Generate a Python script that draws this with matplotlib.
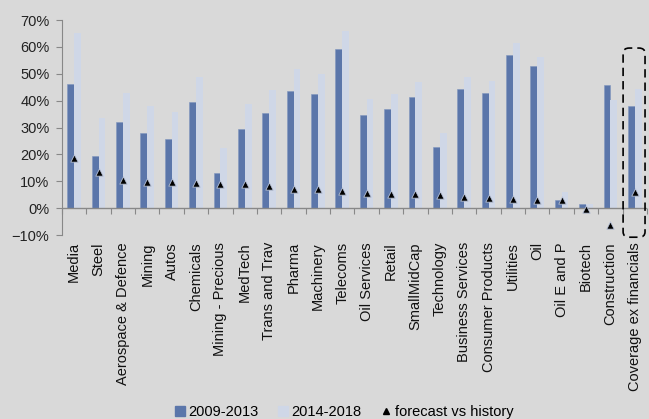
import numpy as np
import matplotlib.pyplot as plt
from matplotlib.patches import Patch, FancyBboxPatch
from matplotlib.lines import Line2D
from matplotlib.ticker import PercentFormatter

plt.rcParams['font.family'] = ['Liberation Sans', 'DejaVu Sans']

sectors = ["Media", "Steel", "Aerospace & Defence", "Mining", "Autos", "Chemicals",
           "Mining - Precious", "MedTech", "Trans and Trav", "Pharma", "Machinery",
           "Telecoms", "Oil Services", "Retail", "SmallMidCap", "Technology",
           "Business Services", "Consumer Products", "Utilities", "Oil", "Oil E and P",
           "Biotech", "Construction", "Coverage ex financials"]
p2009_2013 = [46.1, 19.3, 32.0, 28.0, 25.6, 39.4, 13.0, 29.4, 35.3, 43.5, 42.4, 59.3,
              34.5, 37.0, 41.3, 22.7, 44.2, 42.8, 57.2, 52.9, 3.0, 1.7, 46.0, 38.0]
p2014_2018 = [65.3, 33.4, 42.8, 38.0, 35.7, 49.0, 22.3, 38.7, 43.9, 51.7, 50.0, 66.0,
              40.6, 42.6, 47.0, 27.9, 48.7, 47.2, 61.3, 56.2, 6.2, 1.5, 40.2, 44.5]
forecast = [18.6, 13.5, 10.5, 9.7, 9.7, 9.3, 8.9, 8.9, 8.3, 7.3, 7.3, 6.4,
            5.7, 5.1, 5.1, 4.8, 4.2, 3.9, 3.6, 3.0, 3.0, -0.4, -6.2, 6.0]

bg = '#d9d9d9'
dark = '#5b76aa'
light = '#cfd7e7'

fig = plt.figure(figsize=(6.49, 4.19), dpi=100, facecolor=bg)
ax = fig.add_axes([0.0955, 0.439, 0.9014, 0.513])
ax.set_facecolor(bg)

x = np.arange(len(sectors))
w = 0.28
ax.bar(x - w / 2, p2009_2013, w, color=dark, edgecolor='#8096bf', linewidth=0.4, zorder=2)
ax.bar(x + w / 2, p2014_2018, w, color=light, zorder=2)
ax.scatter(x, forecast, marker='^', s=28, color='black', edgecolors='#b8c2d8',
           linewidths=0.6, zorder=4)

ax.set_xlim(-0.5, len(sectors) - 0.5)
ax.set_ylim(-10, 70)
ax.set_yticks(np.arange(-10, 71, 10))
ax.yaxis.set_major_formatter(PercentFormatter(decimals=0))
ax.tick_params(axis='y', labelsize=10.5, colors='#222222', length=4, color='#888888', pad=5)

# category labels below plot, no tick marks
ax.set_xticks(x)
ax.set_xticklabels(sectors, rotation=90, fontsize=10.5, color='#111111')
ax.tick_params(axis='x', length=0, pad=5)

for s in ['top', 'right', 'bottom']:
    ax.spines[s].set_visible(False)
ax.spines['left'].set_color('#888888')

# zero line with boundary ticks
ax.axhline(0, color='#888888', linewidth=1, zorder=3)
sec = ax.secondary_xaxis(10 / 80)
sec.set_xticks(np.arange(len(sectors) + 1) - 0.5)
sec.set_xticklabels([])
sec.tick_params(length=4, color='#888888', direction='out')
sec.spines['bottom'].set_visible(False)

# dashed box around coverage
box = FancyBboxPatch((22.52, -10.8), 0.9, 70.4, boxstyle='round,pad=0,rounding_size=0.25',
                     mutation_aspect=8, fill=False, linestyle=(0, (5, 3)), linewidth=1.2,
                     edgecolor='black', clip_on=False, zorder=5)
ax.add_patch(box)

handles = [Patch(color=dark, label='2009-2013'),
           Patch(color=light, label='2014-2018'),
           Line2D([], [], marker='^', color='black', linestyle='none', markersize=4,
                  label='forecast vs history')]
fig.legend(handles=handles, loc='lower center', bbox_to_anchor=(0.53, -0.032), ncol=3,
           frameon=False, fontsize=10.5, handlelength=0.7, handleheight=0.7,
           handletextpad=0.25, columnspacing=1.3)

fig.savefig('out.png', dpi=100, facecolor=bg)
